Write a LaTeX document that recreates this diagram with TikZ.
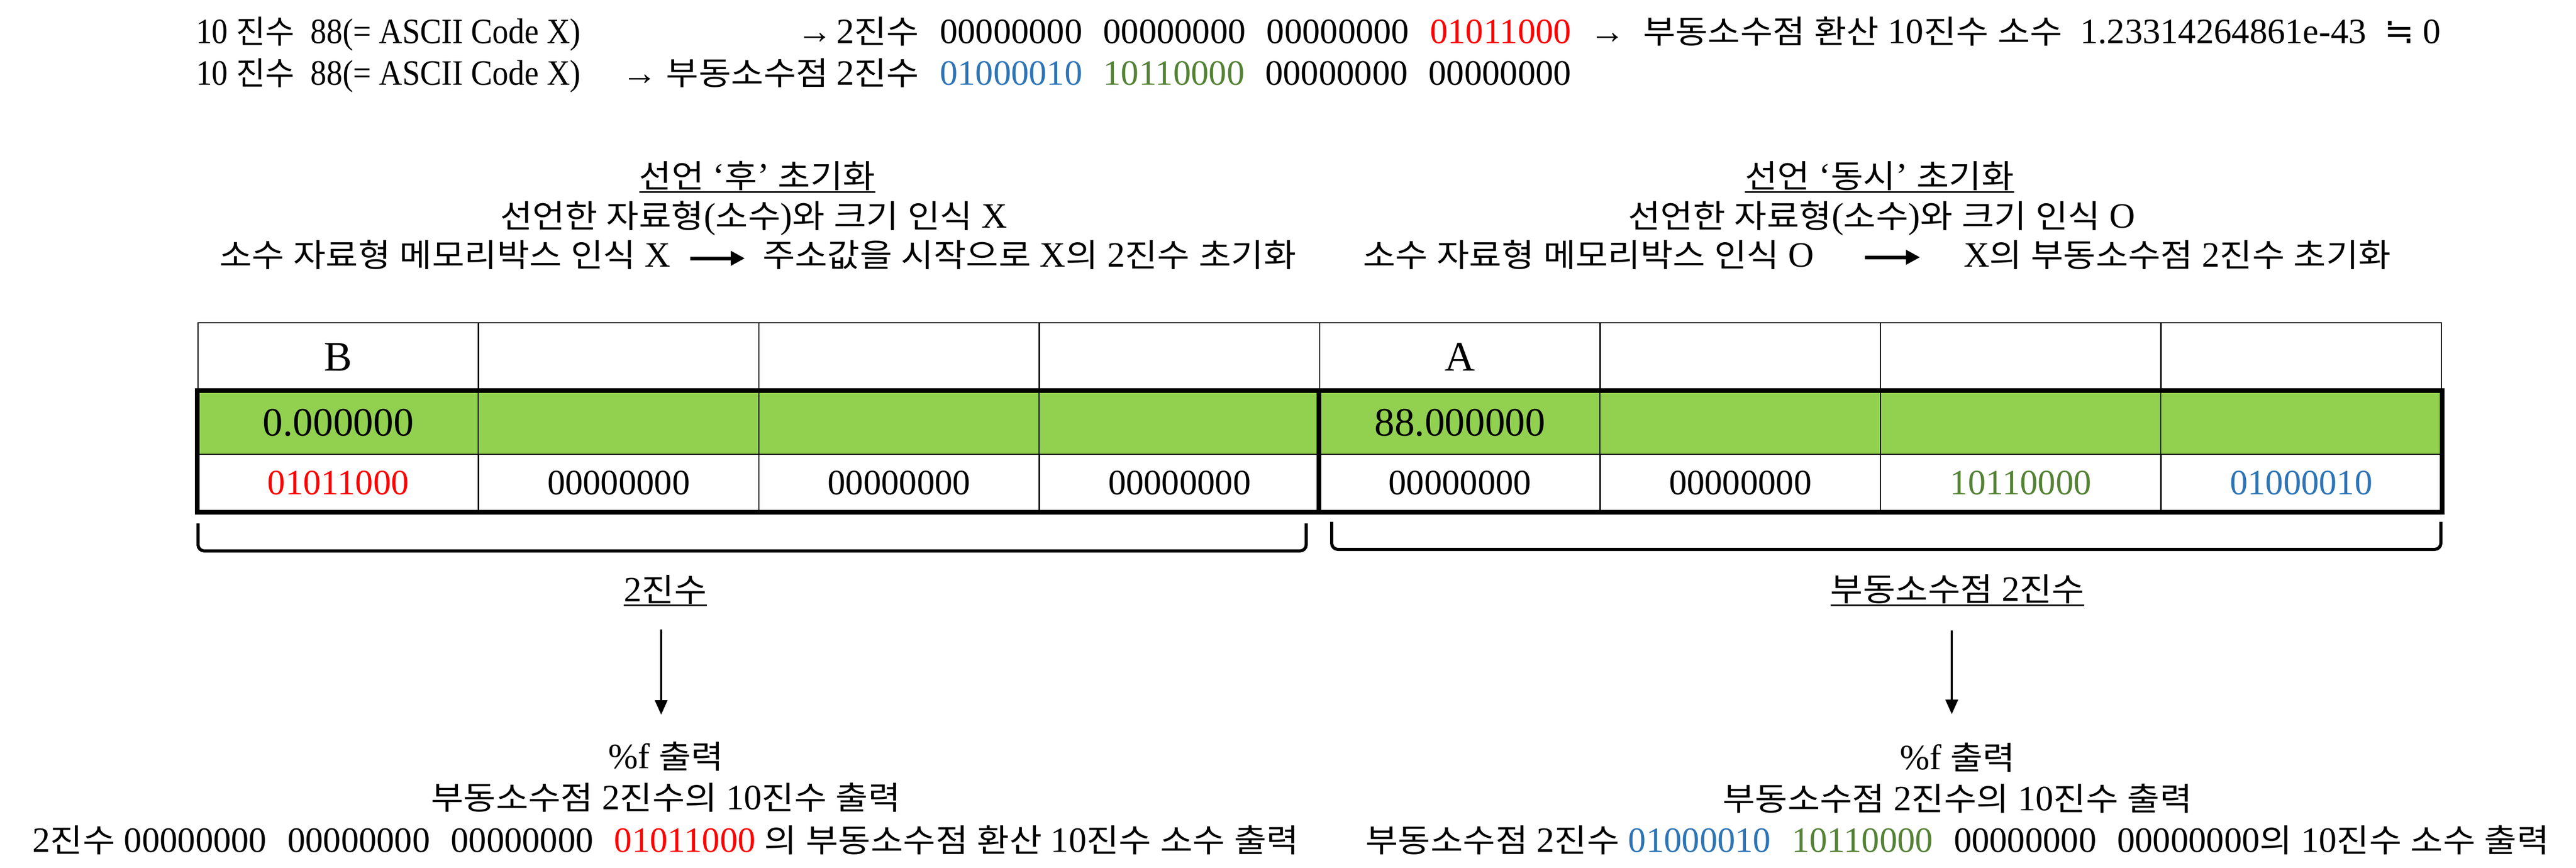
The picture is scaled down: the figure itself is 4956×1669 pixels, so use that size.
\documentclass[tikz,border=0pt]{standalone}
\usepackage{fontspec}
\usepackage{graphicx}
\setmainfont{Liberation Serif}
\newfontfamily\krfont{Noto Sans CJK KR}[Scale=0.9,FakeStretch=1.1]
\newfontfamily\symfont{DejaVu Sans}
\usetikzlibrary{arrows.meta}
\definecolor{bred}{HTML}{FF0000}
\definecolor{bblue}{HTML}{2E75B6}
\definecolor{bgreen}{HTML}{548235}
\definecolor{gfill}{HTML}{92D050}
\XeTeXinterchartokenstate=1
\chardef\KrClass=77
\newcount\krcnt
\krcnt="AC00
\loop
\XeTeXcharclass\krcnt=\KrClass
\advance\krcnt by 1
\ifnum\krcnt<"D7A4\repeat
\XeTeXinterchartoks 0 77 = {\krfont}
\XeTeXinterchartoks 1 77 = {\krfont}
\XeTeXinterchartoks 2 77 = {\krfont}
\XeTeXinterchartoks 3 77 = {\krfont}
\XeTeXinterchartoks 4095 77 = {\krfont}
\XeTeXinterchartoks 77 0 = {\rmfamily}
\XeTeXinterchartoks 77 1 = {\rmfamily}
\XeTeXinterchartoks 77 2 = {\rmfamily}
\XeTeXinterchartoks 77 3 = {\rmfamily}
\XeTeXinterchartoks 77 4095 = {\rmfamily}
\newcommand\bodysize{\fontsize{19.5pt}{23pt}\selectfont}
\newcommand\hdsize{\fontsize{23pt}{27pt}\selectfont}
\newcommand\grsize{\fontsize{22pt}{26pt}\selectfont}
\newcommand\bgap{\hspace{0.40cm}}
\newcommand\asciitext{\scalebox{0.9}[1]{10 진수~ 88(= ASCII Code X)}}
\begin{document}
\begin{tikzpicture}[x=0.01cm,y=-0.01cm,
  txt/.style={inner sep=0pt,outer sep=0pt,font=\bodysize},
  cellbase/.style={draw=black,line width=0.02cm,inner sep=0pt,minimum width=5.395cm},
  hcell/.style={cellbase,minimum height=1.32cm,font=\hdsize},
  gcell/.style={cellbase,fill=gfill,minimum height=1.21cm,font=\grsize},
  bcell/.style={cellbase,minimum height=1.10cm,font=\bodysize},
  thickbox/.style={line width=0.09cm},
  brk/.style={line width=0.06cm,rounded corners=0.12cm},
  uline/.style={line width=0.03cm},
  harrow/.style={line width=0.07cm,-{Triangle[length=0.27cm,width=0.27cm]}},
  varrow/.style={line width=0.035cm,-{Triangle[length=0.28cm,width=0.24cm]}}]
\useasboundingbox[fill=white] (0,0) rectangle (4956,1669);

% top two lines
\node[txt,anchor=base west] (n1a) at (377,83) {\asciitext};
\node[txt,anchor=base west] (n1b) at (1533,83) {→};
\node[txt,anchor=base west] (n1c) at (1609,83) {2진수\bgap 00000000\bgap 00000000\bgap 00000000\bgap \textcolor{bred}{01011000}};
\node[txt,anchor=base east] (n1d) at (4696,83) {→ \ 부동소수점 환산 10진수 소수 \ 1.23314264861e-43 \ {\symfont ≒} 0};
\node[txt,anchor=base west] (n2a) at (377,163) {\asciitext};
\node[txt,anchor=base west] (n2b) at (1196,163) {→ 부동소수점};
\node[txt,anchor=base west] (n2c) at (1609,163) {2진수\bgap \textcolor{bblue}{01000010}\bgap \textcolor{bgreen}{10110000}\bgap 00000000\bgap 00000000};

% left header
\node[txt,anchor=base] (t1) at (1457,361) {선언 ‘후’ 초기화};
\draw[uline] ([yshift=-0.08cm]t1.base west) -- ([yshift=-0.08cm]t1.base east);
\node[txt,anchor=base] (h1) at (1450,438) {선언한 자료형(소수)와 크기 인식 X};
\node[txt,anchor=base east] (l3a) at (1290,513) {소수 자료형 메모리박스 인식 X};
\node[txt,anchor=base west] (l3b) at (1467,513) {주소값을 시작으로 X의 2진수 초기화};
\draw[harrow] ([xshift=0.38cm,yshift=0.16cm]l3a.base east) -- ([xshift=-0.34cm,yshift=0.16cm]l3b.base west);

% right header
\node[txt,anchor=base] (t2) at (3616,361) {선언 ‘동시’ 초기화};
\draw[uline] ([yshift=-0.08cm]t2.base west) -- ([yshift=-0.08cm]t2.base east);
\node[txt,anchor=base] (h2) at (3620,438) {선언한 자료형(소수)와 크기 인식 O};
\node[txt,anchor=base east] (l3c) at (3490,513) {소수 자료형 메모리박스 인식 O};
\node[txt,anchor=base west] (l3d) at (3778,513) {X의 부동소수점 2진수 초기화};
\draw[harrow] ([xshift=0.98cm,yshift=0.18cm]l3c.base east) -- ([xshift=-0.84cm,yshift=0.18cm]l3d.base west);

% table
\foreach \i/\t in {0/B,1/{},2/{},3/{},4/A,5/{},6/{},7/{}}
  \node[hcell] (hd\i) at ({381+539.5*(\i+0.5)},687) {\t};
\foreach \i/\t in {0/0.000000,1/{},2/{},3/{},4/88.000000,5/{},6/{},7/{}}
  \node[gcell] (gr\i) at ({381+539.5*(\i+0.5)},813.5) {\t};
\foreach \i/\t in {0/{\textcolor{bred}{01011000}},1/00000000,2/00000000,3/00000000,4/00000000,5/00000000,6/{\textcolor{bgreen}{10110000}},7/{\textcolor{bblue}{01000010}}}
  \node[bcell] (bn\i) at ({381+539.5*(\i+0.5)},929) {\t};
\draw[thickbox] (gr0.north west) rectangle (bn7.south east);
\draw[thickbox] (gr4.north west) -- (bn4.south west);

% brackets
\coordinate (bl1) at (381,1007);
\coordinate (bl2) at (2513,1060);
\coordinate (bl3) at (2513,1007);
\draw[brk] (bl1) |- (bl2) -- (bl3);
\coordinate (br1) at (2562,1004);
\coordinate (br2) at (4696,1057);
\coordinate (br3) at (4696,1004);
\draw[brk] (br1) |- (br2) -- (br3);

% labels under brackets
\node[txt,anchor=base] (lab1) at (1280,1157) {2진수};
\draw[uline] ([yshift=-0.07cm]lab1.base west) -- ([yshift=-0.07cm]lab1.base east);
\node[txt,anchor=base] (lab2) at (3766,1156) {부동소수점 2진수};
\draw[uline] ([yshift=-0.08cm]lab2.base west) -- ([yshift=-0.08cm]lab2.base east);

% vertical arrows
\coordinate (va1) at (1272,1211);
\coordinate (va2) at (1272,1375);
\draw[varrow] (va1) -- (va2);
\coordinate (vb1) at (3755,1213);
\coordinate (vb2) at (3755,1374);
\draw[varrow] (vb1) -- (vb2);

% bottom texts
\node[txt,anchor=base] (o1) at (1281,1478) {\%f 출력};
\node[txt,anchor=base] (o2) at (1281,1557) {부동소수점 2진수의 10진수 출력};
\node[txt,anchor=base] (o3) at (1281,1639) {2진수 00000000\bgap 00000000\bgap 00000000\bgap \textcolor{bred}{01011000} 의 부동소수점 환산 10진수 소수 출력};
\node[txt,anchor=base] (p1) at (3766,1480) {\%f 출력};
\node[txt,anchor=base] (p2) at (3766,1559) {부동소수점 2진수의 10진수 출력};
\node[txt,anchor=base] (p3) at (3766,1639) {부동소수점 2진수 \textcolor{bblue}{01000010}\bgap \textcolor{bgreen}{10110000}\bgap 00000000\bgap 00000000의 10진수 소수 출력};
\end{tikzpicture}
\end{document}
